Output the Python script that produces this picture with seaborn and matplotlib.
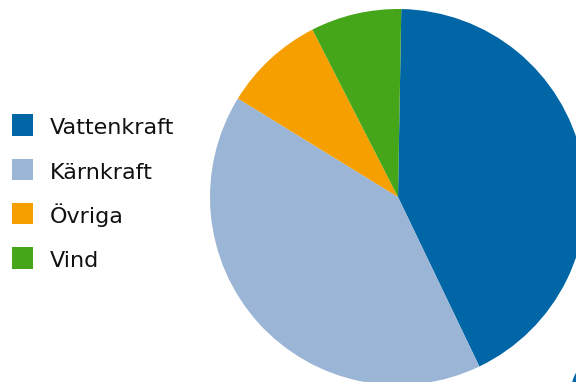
import matplotlib
matplotlib.use("Agg")
import matplotlib.pyplot as plt
from matplotlib.patches import Rectangle, Ellipse
import seaborn as sns

categories = ["Vattenkraft", "Kärnkraft", "Övriga", "Vind"]
shares = [42.6, 40.9, 8.7, 7.8]
colors = ["#0066A6", "#9BB5D6", "#F59F00", "#46A61A"]

sns.set_theme(style="white")
plt.rcParams["font.family"] = ["DejaVu Sans"]
palette = sns.color_palette(colors)

W, H = 576, 382
fig = plt.figure(figsize=(W / 100, H / 100), dpi=100)
cx, cy, r = 398, 197, 188
ax = fig.add_axes([(cx - r) / W, (H - cy - r) / H, 2 * r / W, 2 * r / H])
ax.pie(shares, colors=palette, startangle=89, counterclock=False,
       radius=1, wedgeprops=dict(linewidth=0))
ax.set_xlim(-1, 1)
ax.set_ylim(-1, 1)
ax.set_aspect("equal")
ax.axis("off")

# legend drawn as squares + labels in figure pixel coordinates
sq = 21.5
for i, (lab, col) in enumerate(zip(categories, palette)):
    yc = 125 + i * 44.3
    fig.add_artist(Rectangle((11.5 / W, 1 - (yc + sq / 2) / H), sq / W, sq / H,
                             transform=fig.transFigure, facecolor=col,
                             edgecolor="none"))
    fig.text(50 / W, 1 - (yc + 9.5) / H, lab, fontsize=16, color="#111111",
             ha="left", va="baseline")

# cut-off edge of a logo mark in the bottom-right corner
fig.add_artist(Ellipse((588 / W, 1 - 392 / H), 34 / W, 54 / H,
                       transform=fig.transFigure, facecolor=palette[0],
                       edgecolor="none"))

fig.savefig("out.png", dpi=100)
